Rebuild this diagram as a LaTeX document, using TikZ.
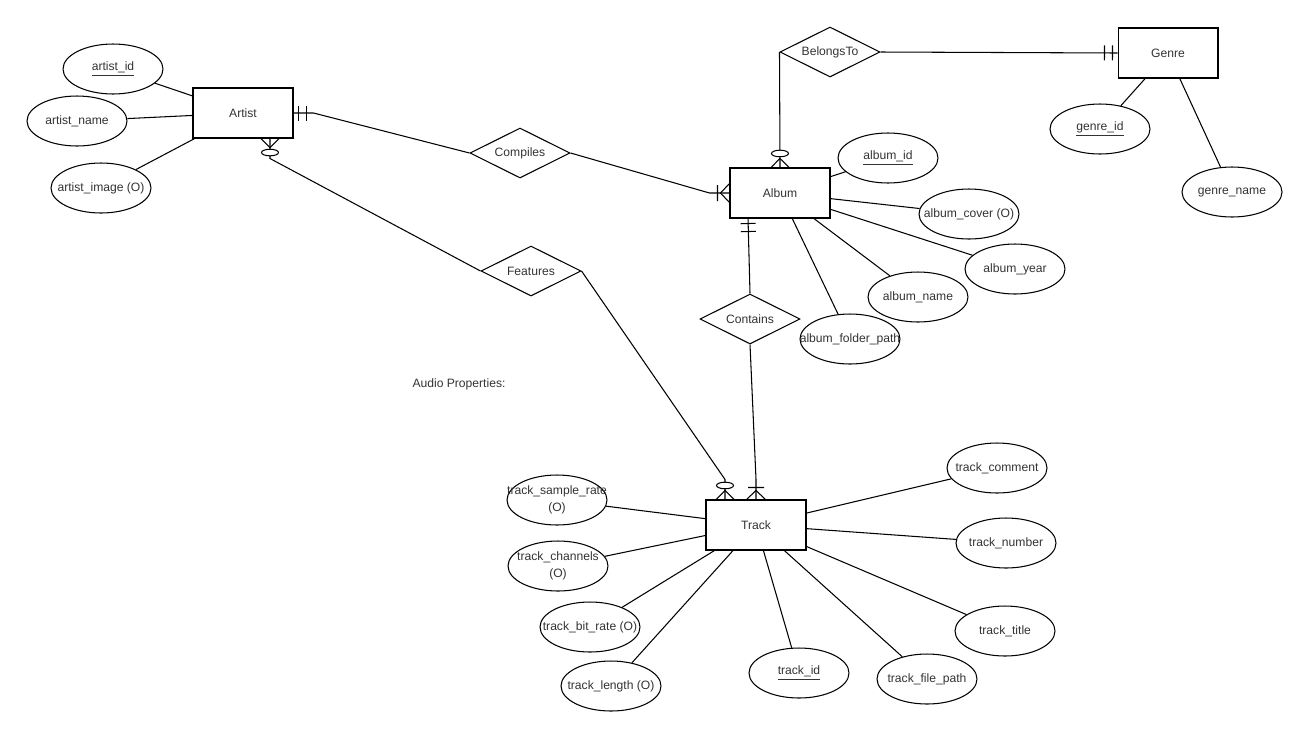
\documentclass[tikz,border=0pt]{standalone}
\usepackage{fontspec}
\setmainfont{Liberation Sans}
\usetikzlibrary{shapes.geometric,decorations.markings}
\newcommand{\attrtxt}[1]{\makebox[0pt]{#1}}
\tikzset{
  entity/.style={draw,minimum width=2cm,minimum height=1cm,inner sep=0pt,fill=white},
  rel/.style={draw,diamond,aspect=2,minimum width=2cm,minimum height=1cm,inner sep=0pt,fill=white},
  attr/.style={draw,ellipse,minimum width=2cm,minimum height=1cm,inner sep=0pt,fill=white},
  endmark/.style={postaction={decorate,decoration={markings,mark=at position 1 with {#1}}}},
  onlyone/.style={endmark={\draw (-5,-7.5)--(-5,7.5) (-13,-7.5)--(-13,7.5);}},
  onemany/.style={endmark={\draw (0,-9.5)--(-9,0)--(0,9.5) (-12,-8)--(-12,8);}},
  zeromany/.style={endmark={\draw (0,-9)--(-9,0)--(0,9); \filldraw[fill=white] (-14,0) ellipse [x radius=3.3,y radius=8.5];}},
}
\begin{document}
\begin{tikzpicture}[x=0.02cm,y=-0.02cm,line width=0.6pt,font=\fontsize{6.9}{8.2}\selectfont,text=black!80]
  \useasboundingbox (0,0) rectangle (1310,738);
  % entities
  \node[entity] (artist) at (243,113) {Artist};
  \node[entity] (album) at (780,193) {Album};
  \node[entity] (genre) at (1168,53) {Genre};
  \node[entity] (track) at (756,525) {Track};
  % relationships
  \node[rel] (belongs) at (830,52) {BelongsTo};
  \node[rel] (compiles) at (520,153) {Compiles};
  \node[rel] (features) at (531,271) {Features};
  \node[rel] (contains) at (750,319) {Contains};
  % artist attributes
  \node[attr] (artistid) at (113,69) {\attrtxt{\underline{artist\_id}}};
  \node[attr] (artistname) at (77,121) {\attrtxt{artist\_name}};
  \node[attr] (artistimage) at (101,188) {\attrtxt{artist\_image (O)}};
  % album attributes
  \node[attr] (albumid) at (888,158) {\attrtxt{\underline{album\_id}}};
  \node[attr] (albumcover) at (969,214) {\attrtxt{album\_cover (O)}};
  \node[attr] (albumyear) at (1015,269) {\attrtxt{album\_year}};
  \node[attr] (albumname) at (918,297) {\attrtxt{album\_name}};
  \node[attr] (albumpath) at (850,339) {\attrtxt{album\_folder\_path}};
  % genre attributes
  \node[attr] (genreid) at (1100,129) {\attrtxt{\underline{genre\_id}}};
  \node[attr] (genrename) at (1232,192) {\attrtxt{genre\_name}};
  % track attributes
  \node[attr] (trackcomment) at (997,468) {\attrtxt{track\_comment}};
  \node[attr] (tracknumber) at (1006,543) {\attrtxt{track\_number}};
  \node[attr] (tracktitle) at (1005,631) {\attrtxt{track\_title}};
  \node[attr] (trackpath) at (927,679) {\attrtxt{track\_file\_path}};
  \node[attr] (trackid) at (799,673) {\attrtxt{\underline{track\_id}}};
  \node[attr] (tracklength) at (611,686) {\attrtxt{track\_length (O)}};
  \node[attr] (trackbitrate) at (590,627) {\attrtxt{track\_bit\_rate (O)}};
  \node[attr] (trackchannels) at (558,566) {\attrtxt{\shortstack{track\_channels\\(O)}}};
  \node[attr] (trackrate) at (557,500) {\attrtxt{\shortstack{track\_sample\_rate\\(O)}}};
  \node (audio) at (459,384) {Audio Properties:};
  % attribute lines
  \foreach \a in {artistid,artistname,artistimage}
    \draw (artist) -- (\a);
  \foreach \a in {albumid,albumcover,albumyear,albumname,albumpath}
    \draw (album) -- (\a);
  \foreach \a in {genreid,genrename}
    \draw (genre) -- (\a);
  \foreach \a in {trackcomment,tracknumber,tracktitle,trackpath,trackid,tracklength,trackbitrate,trackchannels,trackrate}
    \draw (track) -- (\a);
  % relationship lines
  \coordinate (artistfoot) at ([xshift=0.54cm]artist.south);
  \coordinate (albumfoot) at ([xshift=-0.64cm]album.south);
  \coordinate (trackfoot) at ([xshift=-0.62cm]track.north);
  \draw[onlyone] (compiles.west) -- ([xshift=0.4cm]artist.east) -- (artist.east);
  \draw[onemany] (compiles.east) -- ([xshift=-0.4cm]album.west) -- (album.west);
  \draw[zeromany] (features.west) -- ([yshift=-0.4cm]artistfoot) -- (artistfoot);
  \draw[zeromany] (features.east) -- ([yshift=0.4cm]trackfoot) -- (trackfoot);
  \draw[onlyone] (contains.north) -- (albumfoot);
  \draw[onemany] (contains.south) -- ([yshift=0.4cm]track.north) -- (track.north);
  \draw[zeromany] (belongs.west) -- (album.north);
  \draw[onlyone] (belongs.east) -- (genre.west);
\end{tikzpicture}
\end{document}
